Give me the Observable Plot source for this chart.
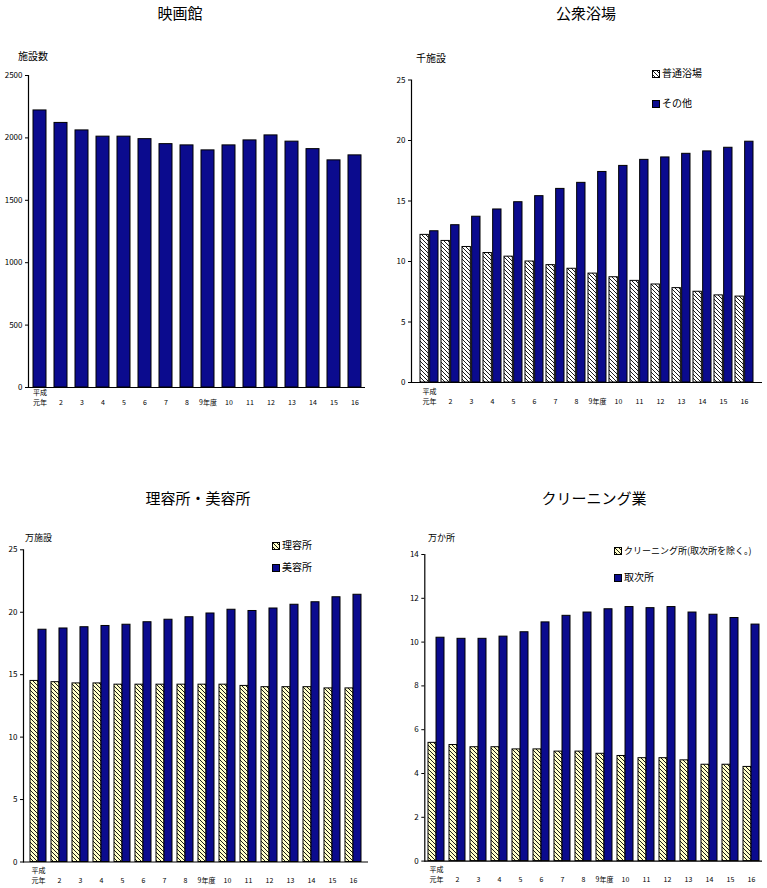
<!DOCTYPE html>
<html><head><meta charset="utf-8">
<script src="https://cdn.jsdelivr.net/npm/d3@7"></script>
<script src="https://cdn.jsdelivr.net/npm/@observablehq/plot@0.6"></script>
<style>
body{margin:0;background:#fff;font-family:"Noto Sans CJK JP",sans-serif;}
#page{position:relative;width:767px;height:888px;overflow:hidden;background:#fff;}
.abs{position:absolute;white-space:nowrap;color:#000;font-weight:400;}
.chart{position:absolute;}
.sw{display:inline-block;vertical-align:middle;margin-right:2px;}
</style></head><body>
<div id="page">
<svg width="0" height="0" style="position:absolute">
<defs>
<pattern id="hatchW" patternUnits="userSpaceOnUse" width="4" height="4">
<rect width="4" height="4" fill="#ffffff"/>
<path d="M-1,-1L5,5M3,-1L5,1M-1,3L1,5" stroke="#000" stroke-width="0.9"/>
</pattern>
<pattern id="hatchY" patternUnits="userSpaceOnUse" width="4" height="4">
<rect width="4" height="4" fill="#ffffc8"/>
<path d="M-1,-1L5,5M3,-1L5,1M-1,3L1,5" stroke="#000" stroke-width="0.9"/>
</pattern>
</defs></svg>
</div>
<script>
// ---- data ----
const years = ["1","2","3","4","5","6","7","8","9","10","11","12","13","14","15","16"];
const yearLabels = ["元年","2","3","4","5","6","7","8","9年度","10","11","12","13","14","15","16"];
const eraLabel = "平成";

const cinema = [2220,2120,2060,2010,2010,1990,1950,1940,1900,1940,1980,2020,1970,1910,1820,1860];
const bathOrdinary = [12.2,11.7,11.2,10.7,10.4,10.0,9.7,9.4,9.0,8.7,8.4,8.1,7.8,7.5,7.2,7.1];
const bathOther = [12.5,13.0,13.7,14.3,14.9,15.4,16.0,16.5,17.4,17.9,18.4,18.6,18.9,19.1,19.4,19.9];
const barber = [14.5,14.4,14.3,14.3,14.2,14.2,14.2,14.2,14.2,14.2,14.1,14.0,14.0,14.0,13.9,13.9];
const beauty = [18.6,18.7,18.8,18.9,19.0,19.2,19.4,19.6,19.9,20.2,20.1,20.3,20.6,20.8,21.2,21.4];
const cleaning = [5.4,5.3,5.2,5.2,5.1,5.1,5.0,5.0,4.9,4.8,4.7,4.7,4.6,4.4,4.4,4.3];
const agency = [10.2,10.15,10.15,10.25,10.45,10.9,11.2,11.35,11.5,11.6,11.55,11.6,11.35,11.25,11.1,10.8];

const ticks1 = [0,500,1000,1500,2000,2500];
const ticks2 = [0,5,10,15,20,25];
const ticks3 = [0,5,10,15,20,25];
const ticks4 = [0,2,4,6,8,10,12,14];

const titles = ["映画館","公衆浴場","理容所・美容所","クリーニング業"];
const units = ["施設数","千施設","万施設","万か所"];
const legend2 = ["普通浴場","その他"];
const legend3 = ["理容所","美容所"];
const legend4 = ["クリーニング所(取次所を除く。)","取次所"];

const BLUE = "#0b0b8e";
const page = document.getElementById("page");

function addText(txt, x, y, size, anchor="left") {
  const d = document.createElement("div");
  d.className = "abs";
  d.style.fontSize = size + "px";
  d.style.lineHeight = size + "px";
  d.style.top = (y - size/2) + "px";
  d.style.left = x + "px";
  if (anchor === "center") d.style.transform = "translateX(-50%)";
  d.innerHTML = txt;
  page.appendChild(d);
}
function swatch(fill) {
  return `<svg class="sw" width="8" height="8"><rect x="0.5" y="0.5" width="7" height="7" fill="${fill}" stroke="#000" stroke-width="1"/></svg>`;
}

function chart(o) {
  const n = o.series.length;
  const step = (o.width - o.ml - o.mr) / years.length;
  const bw = step * (1 - o.padding);
  const marks = [];
  o.series.forEach((s, k) => {
    const data = years.map((y, i) => ({year: y, value: s.values[i]}));
    marks.push(Plot.barY(data, {
      x: "year", y: "value", fill: s.fill, stroke: "#000", strokeWidth: 1,
      insetLeft: k * bw / n, insetRight: (n - 1 - k) * bw / n
    }));
  });
  const lab = years.map((y, i) => ({year: y, label: yearLabels[i]}));
  marks.push(Plot.ruleY([0], {stroke: "#000", strokeWidth: 1.2}));
  marks.push(Plot.frame({anchor: "left", stroke: "#000", strokeWidth: 1.2}));
  marks.push(Plot.axisY({ticks: o.yTicks, tickFormat: d => String(d), tickSize: 3, tickPadding: 3, fontSize: o.tickFont, label: null}));
  marks.push(Plot.text(lab, {x: "year", text: "label", frameAnchor: "bottom", dy: o.labelDy, fontSize: o.xFont}));
  marks.push(Plot.text([{year: years[0], label: eraLabel}], {x: "year", text: "label", frameAnchor: "bottom", dy: o.eraDy, fontSize: o.xFont}));
  const svg = Plot.plot({
    width: o.width, height: o.height,
    marginLeft: o.ml, marginRight: o.mr, marginTop: o.mt, marginBottom: o.mb,
    style: {fontFamily: '"Noto Sans CJK JP", sans-serif', color: "#000", background: "transparent", overflow: "visible"},
    x: {type: "band", domain: years, paddingInner: o.padding, paddingOuter: o.padding / 2, axis: null},
    y: {domain: o.yDomain, axis: null, label: null},
    marks
  });
  svg.classList.add("chart");
  svg.style.left = o.left + "px";
  svg.style.top = o.top + "px";
  page.appendChild(svg);
}

chart({left: 0, top: 60, width: 383, height: 360, ml: 28, mr: 18, mt: 15, mb: 33,
  yDomain: [0, 2500], yTicks: ticks1, padding: 0.4, labelDy: 17, eraDy: 7, tickFont: 8, xFont: 7,
  series: [{values: cinema, fill: BLUE}]});
chart({left: 383, top: 60, width: 384, height: 360, ml: 28, mr: 5, mt: 19.5, mb: 38,
  yDomain: [0, 25], yTicks: ticks2, padding: 0.12, labelDy: 21, eraDy: 11, tickFont: 8, xFont: 7,
  series: [{values: bathOrdinary, fill: "url(#hatchW)"}, {values: bathOther, fill: BLUE}]});
chart({left: 0, top: 540, width: 383, height: 348, ml: 23, mr: 15, mt: 9.3, mb: 26.5,
  yDomain: [0, 25], yTicks: ticks3, padding: 0.26, labelDy: 20.5, eraDy: 10.5, tickFont: 8, xFont: 7,
  series: [{values: barber, fill: "url(#hatchY)"}, {values: beauty, fill: BLUE}]});
chart({left: 383, top: 540, width: 384, height: 348, ml: 41.3, mr: 5, mt: 14, mb: 27.4,
  yDomain: [0, 14], yTicks: ticks4, padding: 0.24, labelDy: 21, eraDy: 11, tickFont: 8, xFont: 7,
  series: [{values: cleaning, fill: "url(#hatchY)"}, {values: agency, fill: BLUE}]});

// titles
addText(titles[0], 180, 12, 15, "center");
addText(titles[1], 586, 12, 15, "center");
addText(titles[2], 198, 497, 15, "center");
addText(titles[3], 594, 497, 15, "center");
// units
addText(units[0], 18, 56, 10);
addText(units[1], 416, 58, 10);
addText(units[2], 25, 537, 9);
addText(units[3], 428, 537, 9);
// legends
addText(swatch("url(#hatchW)") + legend2[0], 652, 73, 10);
addText(swatch(BLUE) + legend2[1], 652, 103, 10);
addText(swatch("url(#hatchY)") + legend3[0], 272, 545, 10);
addText(swatch(BLUE) + legend3[1], 272, 567, 10);
addText(swatch("url(#hatchY)") + legend4[0], 614, 550, 9);
addText(swatch(BLUE) + legend4[1], 614, 577, 10);
</script>
</body></html>
